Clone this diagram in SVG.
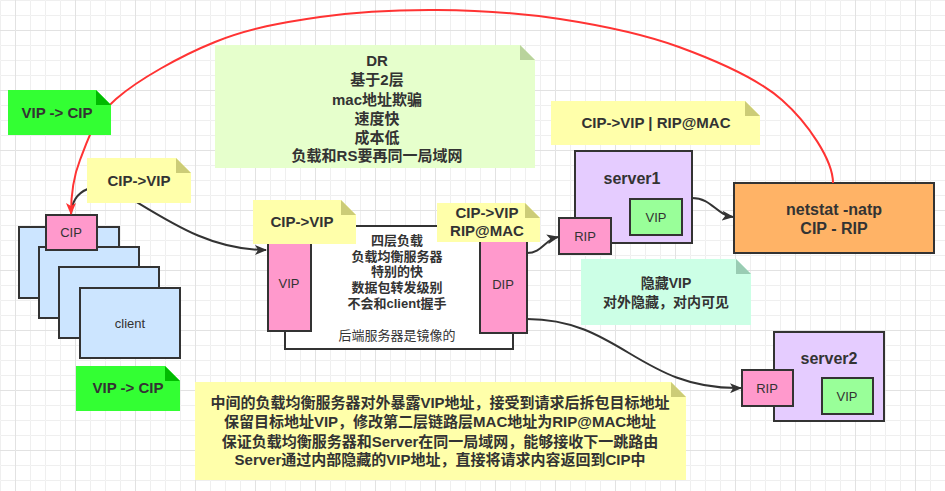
<svg xmlns="http://www.w3.org/2000/svg" width="945" height="491" viewBox="0 0 945 491">
<style>
text{font-family:"Liberation Sans","Noto Sans CJK SC",sans-serif;fill:#333333;text-anchor:middle}
.b{font-weight:bold}
.box{stroke:#333333;stroke-width:2}
.client{fill:#cce5ff}
.pink{fill:#ff99cc}
.srv{fill:#e5ccff}
.vipg{fill:#99ff99}
.lbl{font-size:13px}
.nt{font-size:15px;font-weight:bold}
.con{fill:none;stroke:#333333;stroke-width:2}
.red{fill:none;stroke:#ff3333;stroke-width:2}
</style>
<defs>
<pattern id="g1" width="15" height="15" patternUnits="userSpaceOnUse">
<path d="M15 0.5 L0.5 0.5 L0.5 15" fill="none" stroke="#efefef" stroke-width="1"/>
</pattern>
<pattern id="g2" x="15" y="30" width="60" height="60" patternUnits="userSpaceOnUse">
<path d="M60 0.5 L0.5 0.5 L0.5 60" fill="none" stroke="#e2e2e2" stroke-width="1"/>
</pattern>
<marker id="ak" viewBox="0 0 12 10" refX="11" refY="5" markerWidth="12" markerHeight="10" markerUnits="userSpaceOnUse" orient="auto">
<path d="M0,0 L12,5 L0,10 L3,5 Z" fill="#333333"/>
</marker>
<marker id="ar" viewBox="0 0 12 10" refX="11" refY="5" markerWidth="12" markerHeight="10" markerUnits="userSpaceOnUse" orient="auto">
<path d="M0,0 L12,5 L0,10 L3,5 Z" fill="#ff3333"/>
</marker>
</defs>
<rect width="945" height="491" fill="#ffffff"/>
<rect width="945" height="491" fill="url(#g1)"/>
<rect width="945" height="491" fill="url(#g2)"/>

<g id="clients">
<rect class="box client" x="19" y="227" width="100" height="71"/>
<rect class="box client" x="39" y="247" width="100" height="71"/>
<rect class="box client" x="59" y="267" width="100" height="71"/>
<rect class="box client" x="80" y="288" width="100" height="70"/>
<text class="lbl" x="130" y="328">client</text>
</g>
<g id="cip">
<rect class="box pink" x="46" y="215" width="51" height="35"/>
<text class="lbl" x="71" y="237">CIP</text>
</g>

<g id="lb">
<rect class="box" x="285" y="226" width="228" height="123" fill="#ffffff"/>
<text class="b" font-size="13" x="397" y="245">四层负载</text>
<text class="b" font-size="13" x="397" y="261">负载均衡服务器</text>
<text class="b" font-size="13" x="397" y="276">特别的快</text>
<text class="b" font-size="13" x="397" y="292">数据包转发级别</text>
<text class="b" font-size="13" x="397" y="308">不会和client握手</text>
<text font-size="13" x="397" y="340">后端服务器是镜像的</text>
</g>
<g id="vip-lb">
<rect class="box pink" x="268" y="220" width="43" height="111"/>
<text class="lbl" x="289" y="288">VIP</text>
</g>
<g id="dip">
<rect class="box pink" x="480" y="220" width="47" height="113"/>
<text class="lbl" x="503" y="289">DIP</text>
</g>

<g id="server1">
<rect class="box srv" x="575" y="151" width="117" height="92"/>
<text class="b" font-size="16" x="632" y="184">server1</text>
<rect class="box vipg" x="630" y="199" width="52" height="36"/>
<text class="lbl" x="656" y="222">VIP</text>
</g>
<g id="rip1">
<rect class="box pink" x="559" y="218" width="52" height="36"/>
<text class="lbl" x="585" y="241">RIP</text>
</g>

<g id="server2">
<rect class="box srv" x="774" y="332" width="110" height="89"/>
<text class="b" font-size="16" x="829" y="364">server2</text>
<rect class="box vipg" x="822" y="378" width="51" height="36"/>
<text class="lbl" x="847" y="401">VIP</text>
</g>
<g id="rip2">
<rect class="box pink" x="742" y="370" width="51" height="36"/>
<text class="lbl" x="767" y="393">RIP</text>
</g>

<g id="netstat">
<rect class="box" x="734" y="183" width="200" height="70" fill="#ffb366"/>
<text class="b" font-size="16" x="834" y="215">netstat -natp</text>
<text class="b" font-size="16" x="834" y="234">CIP - RIP</text>
</g>

<g id="connectors">
<path class="con" d="M71 215 C72 190 95 178 125 195 C170 222 210 250 266 250" marker-end="url(#ak)"/>
<path class="con" d="M527 253 C542 253 544 240 558 237" marker-end="url(#ak)"/>
<path class="con" d="M692 198 C712 198 716 215 733 217" marker-end="url(#ak)"/>
<path class="con" d="M527 319 C620 319 640 390 741 388" marker-end="url(#ak)"/>
<path class="red" d="M833 183 C833 160 807.7 122.7 782 100 C756.3 77.3 716 60.5 679 47 C642 33.5 600.3 25.2 560 19 C519.7 12.8 477 10.3 437 10 C397 9.7 357 11.7 320 17 C283 22.3 249 28.3 215 42 C181 55.7 138.5 79.3 116 99 C93.5 118.7 87.5 141 80 160 C72.5 179 71 200 71 214" marker-end="url(#ar)"/>
</g>

<g id="note-vipcip-top">
<path d="M8 90 L96 90 L111 105 L111 135 L8 135 Z" fill="#33ff33"/>
<path d="M96 90 L96 105 L111 105 Z" fill="#00bb00"/>
<text class="nt" x="57" y="118">VIP -&gt; CIP</text>
</g>
<g id="note-cipvip-client">
<path d="M87 158 L176 158 L191 173 L191 203 L87 203 Z" fill="#ffffaa"/>
<path d="M176 158 L176 173 L191 173 Z" fill="#cccc77"/>
<text class="nt" x="139" y="186">CIP-&gt;VIP</text>
</g>
<g id="note-vipcip-bottom">
<path d="M76 366 L165 366 L180 381 L180 411 L76 411 Z" fill="#33ff33"/>
<path d="M165 366 L165 381 L180 381 Z" fill="#00bb00"/>
<text class="nt" x="128" y="393">VIP -&gt; CIP</text>
</g>
<g id="note-dr">
<path d="M215 45 L520 45 L535 60 L535 168 L215 168 Z" fill="#e6ffcc"/>
<path d="M520 45 L520 60 L535 60 Z" fill="#b9d39c"/>
<text class="nt" x="377" y="66">DR</text>
<text class="nt" x="377" y="85">基于2层</text>
<text class="nt" x="377" y="105">mac地址欺骗</text>
<text class="nt" x="377" y="124">速度快</text>
<text class="nt" x="377" y="143">成本低</text>
<text class="nt" x="377" y="161">负载和RS要再同一局域网</text>
</g>
<g id="note-cipvip-lb">
<path d="M253 200 L341 200 L356 215 L356 244 L253 244 Z" fill="#ffffaa"/>
<path d="M341 200 L341 215 L356 215 Z" fill="#cccc77"/>
<text class="nt" x="302" y="227">CIP-&gt;VIP</text>
</g>
<g id="note-cipvip-dip">
<path d="M437 203 L525 203 L540 218 L540 242 L437 242 Z" fill="#ffffaa"/>
<path d="M525 203 L525 218 L540 218 Z" fill="#cccc77"/>
<text class="nt" x="487" y="218">CIP-&gt;VIP</text>
<text class="nt" x="487" y="236">RIP@MAC</text>
</g>
<g id="note-ripmac">
<path d="M551 101 L745 101 L760 116 L760 145 L551 145 Z" fill="#ffffaa"/>
<path d="M745 101 L745 116 L760 116 Z" fill="#cccc77"/>
<text class="nt" x="656" y="128">CIP-&gt;VIP | RIP@MAC</text>
</g>
<g id="note-hidden">
<path d="M581 259 L736 259 L751 274 L751 325 L581 325 Z" fill="#ccffe6"/>
<path d="M736 259 L736 274 L751 274 Z" fill="#99ccb3"/>
<text class="b" font-size="14" x="666" y="288">隐藏VIP</text>
<text class="b" font-size="14" x="666" y="307">对外隐藏，对内可见</text>
</g>
<g id="note-explain">
<path d="M195 382 L671 382 L686 397 L686 480 L195 480 Z" fill="#ffffaa"/>
<path d="M671 382 L671 397 L686 397 Z" fill="#cccc77"/>
<text class="nt" x="440" y="408">中间的负载均衡服务器对外暴露VIP地址，接受到请求后拆包目标地址</text>
<text class="nt" x="440" y="427">保留目标地址VIP，修改第二层链路层MAC地址为RIP@MAC地址</text>
<text class="nt" x="440" y="447">保证负载均衡服务器和Server在同一局域网，能够接收下一跳路由</text>
<text class="nt" x="440" y="465">Server通过内部隐藏的VIP地址，直接将请求内容返回到CIP中</text>
</g>
</svg>
